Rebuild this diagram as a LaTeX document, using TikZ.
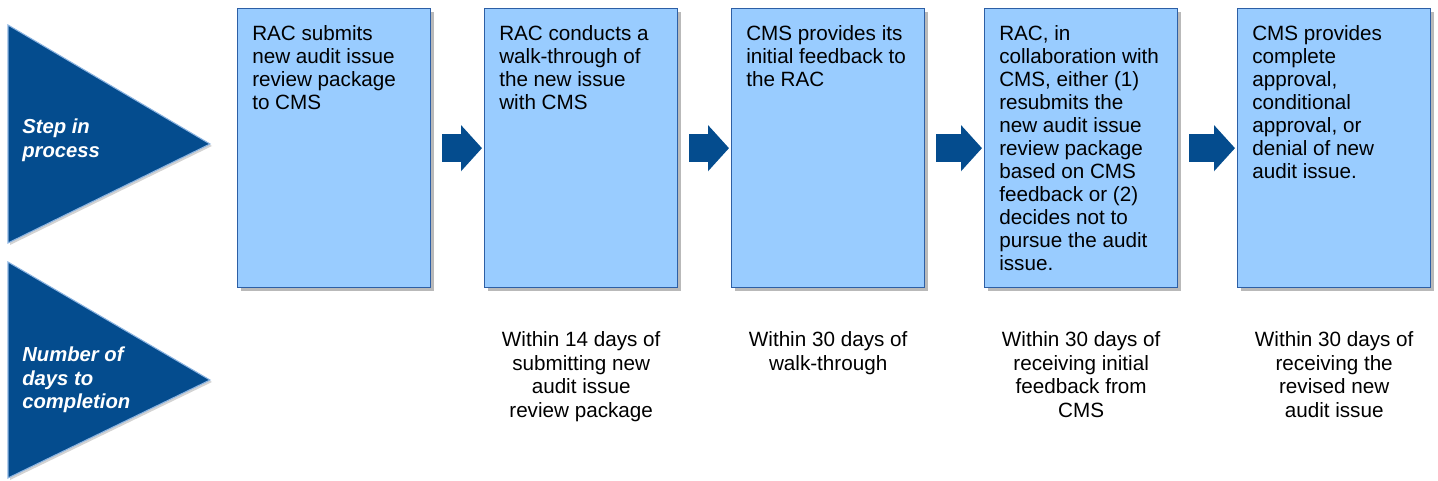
\documentclass[tikz,border=0pt]{standalone}
\usepackage{fontspec}
\setmainfont{Liberation Sans}
\usetikzlibrary{positioning,shadows,arrows.meta}
\definecolor{stageBlue}{RGB}{4,76,142}
\definecolor{stageEdge}{RGB}{140,180,225}
\definecolor{boxFill}{RGB}{153,204,255}
\definecolor{boxEdge}{RGB}{45,95,165}
\newcommand{\pixel}{0.75pt}
\tikzstyle{chart} = [x = \pixel, y = -\pixel]
\tikzstyle{stageTriangle} = [fill=stageBlue, draw=stageEdge, line width=0.8pt, drop shadow={shadow xshift=1.5pt, shadow yshift=-1.5pt, opacity=0.35}]
\tikzstyle{stageText} = [text=white, font=\fontsize{15.2}{17.3}\selectfont\bfseries\itshape, align=left, inner sep=0pt, anchor=north west]
\tikzstyle{stepBox} = [draw=boxEdge, fill=boxFill, line width=1pt, minimum width=144.75pt, minimum height=209.25pt, inner sep=0pt, anchor=north west, drop shadow={shadow xshift=2.5pt, shadow yshift=-2.5pt, opacity=0.55}]
\tikzstyle{stepText} = [font=\fontsize{15.5}{17.3}\selectfont, align=left, inner sep=0pt, anchor=north west]
\tikzstyle{dayText} = [font=\fontsize{15.5}{17.6}\selectfont, align=center, inner sep=0pt, anchor=north]
\tikzstyle{stepArrow} = [draw=stageBlue, line width=21pt, -{Triangle[length=15.75pt, width=33.75pt]}]
\newcommand{\stepBox}[3]{
  \node [stepBox] (step#1) at (#2, 8) {};
  \node [stepText] (step#1Text) at ([xshift=11.25pt, yshift=-12.75pt]step#1.north west) {#3};
}
\newcommand{\dayNote}[2]{
  \node [dayText] (days#1) at ([yshift=-32.5pt]step#1.south) {#2};
}

\begin{document}
\begin{tikzpicture}[chart]
  \useasboundingbox (0,0) rectangle (1438,481);

  % row labels
  \filldraw [stageTriangle] (8,25) -- (210,144) -- (8,243) -- cycle;
  \filldraw [stageTriangle] (8,262) -- (210,380) -- (8,478) -- cycle;
  \node [stageText] (stepLabel) at (22,119) {Step in\\process};
  \node [stageText] (daysLabel) at (22,347) {Number of\\days to\\completion};

  % steps
  \stepBox{1}{237}{RAC submits\\new audit issue\\review package\\to CMS}
  \stepBox{2}{484}{RAC conducts a\\walk-through of\\the new issue\\with CMS}
  \stepBox{3}{731}{CMS provides its\\initial feedback to\\the RAC}
  \stepBox{4}{984}{RAC, in\\collaboration with\\CMS, either (1)\\resubmits the\\new audit issue\\review package\\based on CMS\\feedback or (2)\\decides not to\\pursue the audit\\issue.}
  \stepBox{5}{1237}{CMS provides\\complete\\approval,\\conditional\\approval, or\\denial of new\\audit issue.}

  \foreach \a/\b in {1/2,2/3,3/4,4/5}
    \draw [stepArrow] ([xshift=8.25pt]step\a.east) -- ([xshift=-1.5pt]step\b.west);

  % days
  \dayNote{2}{Within 14 days of\\submitting new\\audit issue\\review package}
  \dayNote{3}{Within 30 days of\\walk-through}
  \dayNote{4}{Within 30 days of\\receiving initial\\feedback from\\CMS}
  \dayNote{5}{Within 30 days of\\receiving the\\revised new\\audit issue}
\end{tikzpicture}
\end{document}
